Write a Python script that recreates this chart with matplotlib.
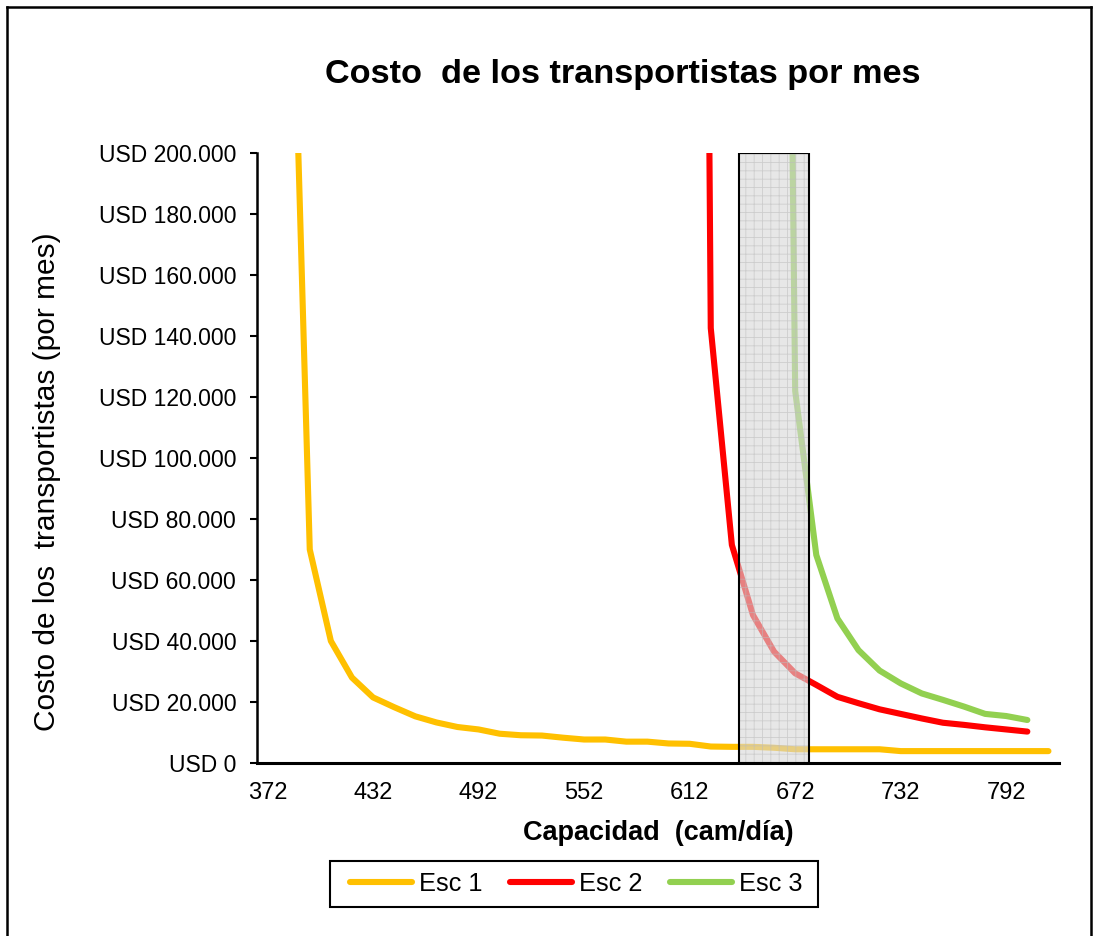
import matplotlib
matplotlib.use("Agg")
import matplotlib.pyplot as plt
from matplotlib.patches import Rectangle
from matplotlib.lines import Line2D
from matplotlib.ticker import FuncFormatter

plt.rcParams['font.family'] = ['Liberation Sans', 'DejaVu Sans']
plt.rcParams['hatch.linewidth'] = 0.6

# capacidad (cam/dia) por escenario y costo mensual (USD)
cap_esc1 = [384, 396, 408, 420, 432, 444, 456, 468, 480, 492, 504, 516, 528,
            540, 552, 564, 576, 588, 600, 612, 624, 636, 648, 660, 672, 684,
            696, 708, 720, 732, 744, 756, 768, 780, 792, 804, 816]
costo_esc1 = [310000, 70000, 40000, 28000, 21500, 18300, 15300, 13300, 11800,
              11000, 9600, 9100, 9000, 8300, 7700, 7700, 7000, 7000, 6400,
              6300, 5400, 5300, 5300, 5000, 4500, 4500, 4500, 4500, 4500,
              3900, 3900, 3900, 3900, 3900, 3900, 3900, 3900]

cap_esc2 = [612, 624, 636, 648, 660, 672, 684, 696, 708, 720, 732, 744, 756,
            768, 780, 792, 804]
costo_esc2 = [1050000, 142600, 71500, 48500, 36500, 29400, 25600, 21700,
              19600, 17600, 16100, 14600, 13200, 12500, 11700, 11000, 10300]

cap_esc3 = [660, 672, 684, 696, 708, 720, 732, 744, 756, 768, 780, 792, 804]
costo_esc3 = [750000, 122000, 68200, 47400, 37000, 30300, 26100, 22800,
              20700, 18500, 16100, 15400, 14100]

zona = (640, 680)   # rango sombreado
xticks = [372, 432, 492, 552, 612, 672, 732, 792]
yticks = list(range(0, 200001, 20000))

W, H = 1097, 936
fig = plt.figure(figsize=(W / 100, H / 100), dpi=100)
ax = fig.add_axes([257 / W, 1 - 763 / H, 802 / W, 610 / H])

lw = 4.4
ax.plot(cap_esc1, costo_esc1, color='#FFC000', lw=lw, label='Esc 1',
        solid_capstyle='round', solid_joinstyle='round')
ax.plot(cap_esc2, costo_esc2, color='#FF0000', lw=lw, label='Esc 2',
        solid_capstyle='round', solid_joinstyle='round')
ax.plot(cap_esc3, costo_esc3, color='#92D050', lw=lw, label='Esc 3',
        solid_capstyle='round', solid_joinstyle='round')

# zona sombreada
ax.add_patch(Rectangle((zona[0], 0), zona[1] - zona[0], 200000,
                       facecolor='#d8d8d8', edgecolor='#bcbcbc', hatch='++',
                       lw=0, alpha=0.6, zorder=3))
ax.add_patch(Rectangle((zona[0], 0), zona[1] - zona[0], 200000,
                       fill=False, edgecolor='black', lw=1.5, zorder=4))

ax.set_xlim(366, 822)
ax.set_ylim(0, 200000)
ax.set_xticks(xticks)
ax.set_yticks(yticks)
ax.yaxis.set_major_formatter(FuncFormatter(
    lambda v, p: 'USD ' + f'{int(v):,}'.replace(',', '.')))
ax.tick_params(axis='x', length=0, pad=14, labelsize=17)
ax.tick_params(axis='y', length=5, width=1.5, pad=10, labelsize=16.5,
               direction='out')
for s in ['top', 'right']:
    ax.spines[s].set_visible(False)
ax.spines['left'].set_linewidth(1.8)
ax.spines['bottom'].set_linewidth(2.2)

ax.set_xlabel('Capacidad  (cam/día)', fontsize=19.5, fontweight='bold',
              va='center')
ax.xaxis.set_label_coords(0.5, -0.115)
ax.set_ylabel('Costo de los  transportistas (por mes)', fontsize=21.5,
              va='center')
ax.yaxis.set_label_coords(-0.262, 0.461)

fig.text(623 / W, 1 - 75 / H, 'Costo  de los transportistas por mes',
         ha='center', va='center', fontsize=24.7, fontweight='bold')

leg = fig.legend(loc='center', bbox_to_anchor=(576 / W, 1 - 884 / H),
                 ncol=3, fontsize=18.3, frameon=False,
                 handlelength=2.45, handletextpad=0.25, columnspacing=1.1,
                 borderpad=0.35)
for h in leg.get_lines():
    h.set_linewidth(4.4)
    h.set_solid_capstyle('round')
# marco de la leyenda
fig.add_artist(Rectangle((330 / W, 1 - 907 / H), 488 / W, 46 / H,
                         fill=False, edgecolor='black', lw=1.5,
                         transform=fig.transFigure))

# marco exterior
fig.add_artist(Line2D([7 / W, 7 / W], [0, 1 - 7 / H],
                      color='black', lw=1.8, transform=fig.transFigure))
fig.add_artist(Line2D([7 / W, 1091 / W], [1 - 7 / H, 1 - 7 / H],
                      color='black', lw=1.8, transform=fig.transFigure))
fig.add_artist(Line2D([1091 / W, 1091 / W], [0, 1 - 7 / H],
                      color='black', lw=1.8, transform=fig.transFigure))

fig.savefig('out.png', dpi=100)
